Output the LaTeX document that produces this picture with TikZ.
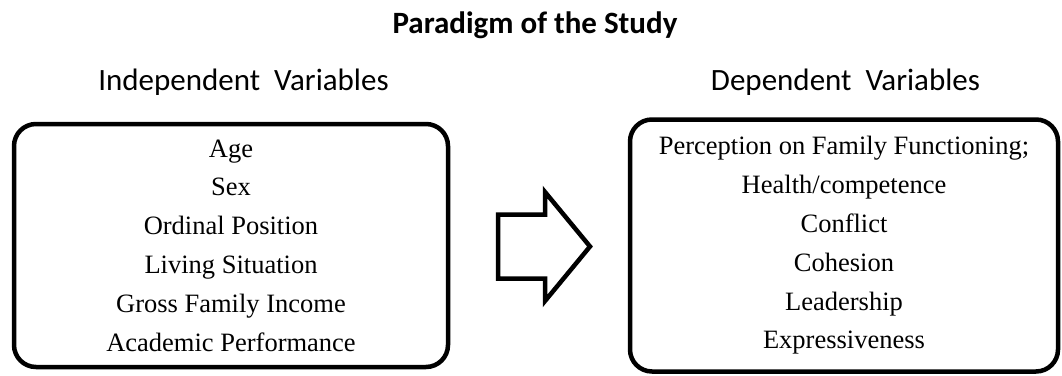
\documentclass[tikz,border=0pt]{standalone}
\usepackage{fontspec}
\setmainfont{Liberation Serif}
\newfontfamily\headfont{Carlito}
\usepackage{tikz}
\usetikzlibrary{positioning}

\begin{document}
\begin{tikzpicture}[x=1pt, y=-1pt,
  varbox/.style={draw, line width=4.5pt, rounded corners=22pt, align=center,
    inner sep=0pt, font=\fontsize{26.5}{38.8}\selectfont},
  headtxt/.style={anchor=base, font=\headfont\fontsize{31}{36}\selectfont}]
\useasboundingbox (0,0) rectangle (1062,375);
% ---- title and headings
\node[headtxt, font=\headfont\bfseries\fontsize{31}{36}\selectfont] (title) at (535,33) {Paradigm of the Study};
\node[headtxt] (indhead) at (243.5,90) {Independent\ \ Variables};
\node[headtxt] (dephead) at (845.5,90) {Dependent\ \ Variables};
% ---- left: independent variables
\node[varbox, minimum width=434pt, minimum height=243pt] (indep) at (231,245.5)
  {Age\\ Sex\\ Ordinal Position\\ Living Situation\\ Gross Family Income\\ Academic Performance};
% ---- right: dependent variables
\node[varbox, minimum width=428pt, minimum height=252pt] (dep) at (844,245.5)
  {Perception on Family Functioning;\\ Health/competence\\ Conflict\\ Cohesion\\ Leadership\\ Expressiveness};
% ---- block arrow between the boxes
\draw[line width=4.5pt, line join=miter] (498,214.5) -- (545,214.5) -- (545,192) -- (590,246.5)
  -- (545,301) -- (545,278.5) -- (498,278.5) -- cycle;
\end{tikzpicture}
\end{document}
